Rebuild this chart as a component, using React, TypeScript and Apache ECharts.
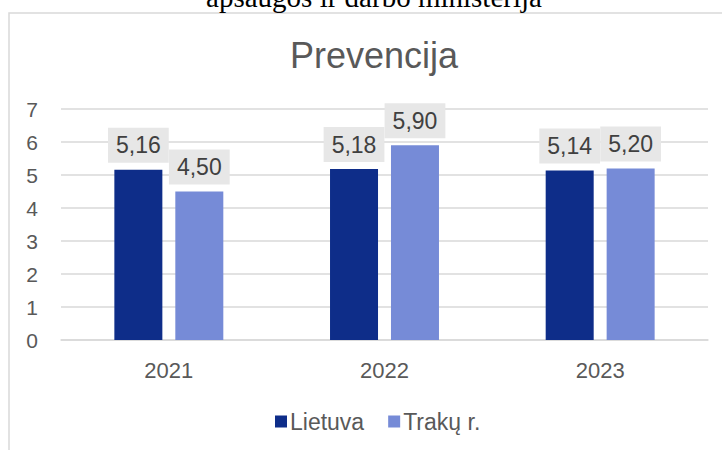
import React, { useEffect, useRef } from "react";
import * as echarts from "echarts";

const categories = ["2021", "2022", "2023"];
const seriesNames = ["Lietuva", "Trakų r."];
const lietuvaValues = [5.16, 5.18, 5.14];
const trakuValues = [4.5, 5.9, 5.2];
const chartTitle = "Prevencija";
const headerText = "apsaugos ir darbo ministerija";

const FONT = "'Liberation Sans', Arial, sans-serif";
const GREY = "#595959";

export default function App() {
  const ref = useRef<HTMLDivElement>(null);
  useEffect(() => {
    if (!ref.current) return;
    const chart = echarts.init(ref.current, undefined, { renderer: "svg" });
    const fmt = (p: any) => Number(p.value).toFixed(2).replace(".", ",");
    const label = {
      show: true,
      position: "top",
      distance: 7,
      formatter: fmt,
      fontFamily: FONT,
      fontSize: 23,
      lineHeight: 23,
      color: "#404040",
      backgroundColor: "#e7e7e7",
      padding: [6, 8],
    };
    chart.setOption({
      animation: false,
      textStyle: { fontFamily: FONT },
      graphic: [
        {
          type: "rect",
          shape: { x: 9, y: 13, width: 900, height: 600 },
          style: { fill: "none", stroke: "#d9d9d9", lineWidth: 1.5 },
          silent: true,
        },
        {
          type: "text",
          style: {
            text: headerText,
            x: 374,
            y: -2.8,
            textAlign: "center",
            textVerticalAlign: "middle",
            fontFamily: "'Liberation Serif', 'Times New Roman', serif",
            fontSize: 29,
            fill: "#000000",
          },
        },
        {
          type: "text",
          style: {
            text: chartTitle,
            x: 374,
            y: 55.5,
            textAlign: "center",
            textVerticalAlign: "middle",
            fontFamily: FONT,
            fontSize: 36,
            fill: GREY,
          },
        },
      ],
      legend: {
        data: seriesNames,
        left: 270,
        top: 405,
        itemWidth: 12,
        itemHeight: 12,
        itemGap: 24,
        icon: "rect",
        textStyle: { fontFamily: FONT, fontSize: 23, color: GREY, padding: [0, 0, 0, -2] },
      },
      grid: { left: 61, right: 14, top: 109, bottom: 110, containLabel: false },
      xAxis: {
        type: "category",
        data: categories,
        axisLine: { lineStyle: { color: "#d9d9d9", width: 1.5 } },
        axisTick: { show: false },
        axisLabel: { fontFamily: FONT, fontSize: 22, color: GREY, margin: 19 },
      },
      yAxis: {
        type: "value",
        min: 0,
        max: 7,
        interval: 1,
        axisLine: { show: false },
        axisTick: { show: false },
        axisLabel: { fontFamily: FONT, fontSize: 21, color: GREY, margin: 23 },
        splitLine: { lineStyle: { color: "#d9d9d9", width: 1.5 } },
      },
      series: [
        {
          name: seriesNames[0],
          type: "bar",
          data: lietuvaValues,
          barWidth: 48,
          barGap: "27%",
          itemStyle: { color: "#0e2d89" },
          label,
        },
        {
          name: seriesNames[1],
          type: "bar",
          data: trakuValues,
          barWidth: 48,
          barGap: "27%",
          itemStyle: { color: "#768bd7" },
          label,
        },
      ],
    });
    return () => chart.dispose();
  }, []);
  return (
    <div
      ref={ref}
      style={{ position: "absolute", left: 0, top: 0, width: 722, height: 450, background: "#ffffff" }}
    />
  );
}
